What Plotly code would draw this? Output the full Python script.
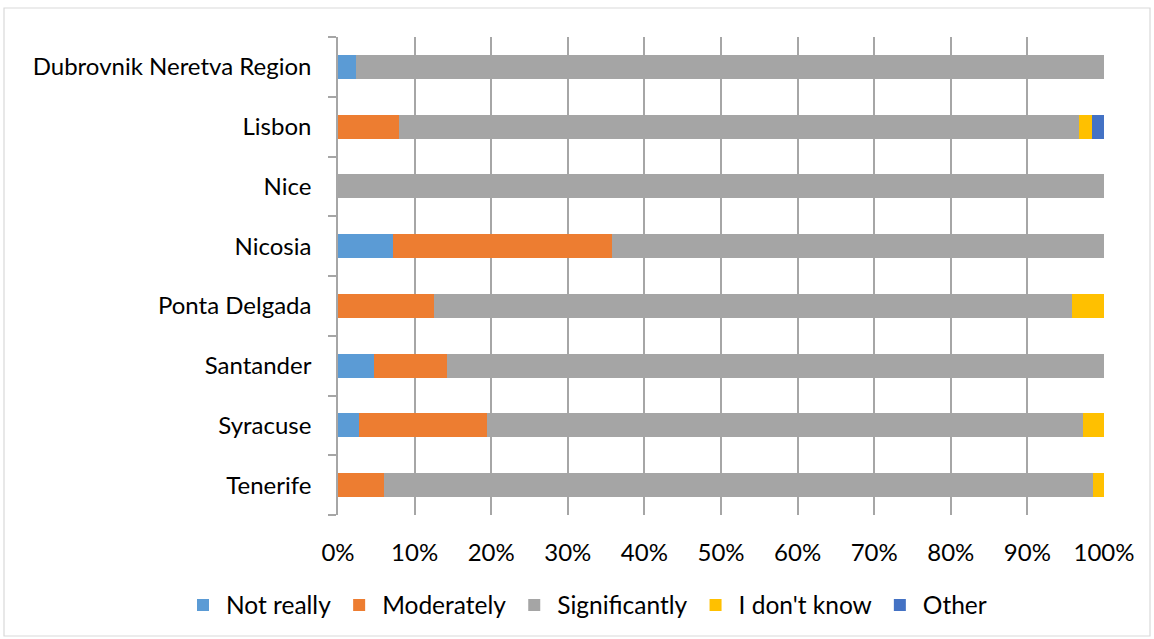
import plotly.graph_objects as go

cities = ["Dubrovnik Neretva Region", "Lisbon", "Nice", "Nicosia",
          "Ponta Delgada", "Santander", "Syracuse", "Tenerife"]
not_really    = [0.023, 0.0,   0.0, 0.0714, 0.0,    0.0476, 0.0278, 0.0]
moderately    = [0.0,   0.080, 0.0, 0.2857, 0.125,  0.0952, 0.1667, 0.060]
significantly = [0.977, 0.888, 1.0, 0.6429, 0.8333, 0.8572, 0.7777, 0.925]
dont_know     = [0.0,   0.016, 0.0, 0.0,    0.0417, 0.0,    0.0278, 0.015]
other         = [0.0,   0.016, 0.0, 0.0,    0.0,    0.0,    0.0,    0.0]

series = [
    ("Not really", not_really, "#5B9BD5"),
    ("Moderately", moderately, "#ED7D31"),
    ("Significantly", significantly, "#A5A5A5"),
    ("I don't know", dont_know, "#FFC000"),
    ("Other", other, "#4472C4"),
]

fig = go.Figure()
for name, vals, col in series:
    fig.add_trace(go.Bar(
        y=cities, x=vals, name=name, orientation="h",
        marker=dict(color=col, line=dict(width=0)),
    ))

W, H = 1154, 639
L, R, T, B = 338, 50, 37, 124
pw, ph = W - L - R, H - T - B

def px(x):
    return (x - L) / pw

def py(y):
    return (H - B - y) / ph

fig.update_layout(
    width=W, height=H,
    barmode="stack", bargap=0.6,
    margin=dict(l=L, r=R, t=T, b=B, autoexpand=False),
    paper_bgcolor="white", plot_bgcolor="white",
    font=dict(family="Lato, Open Sans, sans-serif", size=24, color="#000000"),
    legend=dict(orientation="h", x=px(180), y=py(605), xanchor="left",
                yanchor="middle", font=dict(size=24.5), itemwidth=36,
                traceorder="normal", bgcolor="rgba(0,0,0,0)"),
    xaxis=dict(range=[0, 1], dtick=0.1, tickformat=".0%", showgrid=True,
               gridcolor="#A6A6A6", gridwidth=1.5, zeroline=False,
               showline=False, ticks="", ticklabelstandoff=21, fixedrange=True),
    yaxis=dict(categoryorder="array", categoryarray=cities[::-1],
               showline=True, linecolor="#A6A6A6", linewidth=1.5,
               ticks="outside", tickson="boundaries", ticklen=8,
               tickcolor="#A6A6A6", tickwidth=1.5, ticklabelstandoff=20,
               showgrid=False),
    shapes=[dict(type="rect", xref="paper", yref="paper",
                 x0=px(4), x1=px(1150), y0=py(636), y1=py(8),
                 line=dict(color="#D9D9D9", width=1.2), layer="below")],
)

fig.write_html("out.html")
